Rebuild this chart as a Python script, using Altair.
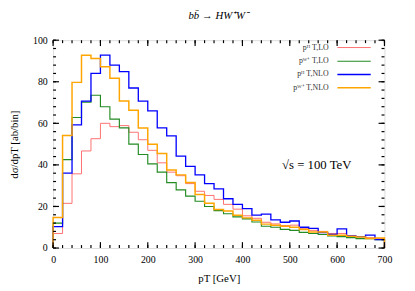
import altair as alt
import pandas as pd

# bin edges (GeV), 20 GeV bins from 0 to 700
edges = list(range(0, 701, 20))

# dsigma/dpT [ab/bin] per bin (35 bins)
h_lo = [7, 21.5, 35.7, 46.7, 52.6, 60, 58.4, 58.9, 55.7, 52.1, 47, 41, 36.5, 34.8, 31,
        27.3, 25.3, 23.4, 21, 18.7, 15.5, 14.3, 12.4, 11.6, 10.8, 11, 9.5, 8.5, 8, 7,
        7, 6, 5.5, 5, 4.5]
w_lo = [12, 42.5, 62.8, 70.2, 73.5, 68, 62, 57.8, 50, 45, 40.5, 36.5, 31.5, 28, 25,
        22.5, 20, 18, 16.5, 15, 14, 12.5, 10.5, 10, 9, 8.5, 7.5, 7, 6.5, 5.8,
        5.5, 5, 4.5, 4.5, 4]
h_nlo = [10.3, 36, 59.3, 70.7, 84, 92.8, 88, 84.9, 77, 70.7, 66, 57.8, 54, 44.2, 39.3,
         35.2, 31, 28.5, 23.7, 21, 19, 15.8, 16.3, 13.5, 12.4, 13, 10, 9.5, 7.4, 6.5,
         9.2, 5.7, 5.5, 6.2, 4]
w_nlo = [14.7, 54.1, 79.7, 92.8, 91.2, 87.2, 81.7, 70.7, 66.3, 57.8, 49.9, 45.5, 37.5, 35.2, 31.5,
         25.8, 21.5, 18.5, 17.8, 15.8, 14.5, 13.4, 11.5, 11, 10.5, 10, 8.9, 7.7, 7.7, 6.1,
         6.1, 5.6, 5.3, 4.6, 4.8]

names = ["pᴴ T,LO", "pᵂ⁺ T,LO", "pᴴ T,NLO", "pᵂ⁺ T,NLO"]
colors = ["#ff7070", "#228B22", "#0000ff", "#ffa500"]
widths = [1, 1.5, 2.5, 3]
series_vals = [h_lo, w_lo, h_nlo, w_nlo]

x_major = list(range(0, 701, 100))
x_minor = list(range(0, 701, 20))
y_major = list(range(0, 101, 20))
y_minor = list(range(0, 101, 4))

ann_x = [557]
ann_y = [40]
ann_text = ["√s = 100 TeV"]

rows = []
for k, (name, vals) in enumerate(zip(names, series_vals)):
    i = 0
    rows.append({"series": name, "k": k, "x": edges[0], "y": 0, "idx": i})
    for e, v in zip(edges[:-1], vals):
        i += 1
        rows.append({"series": name, "k": k, "x": e, "y": v, "idx": i})
    rows.append({"series": name, "k": k, "x": edges[-1], "y": 0, "idx": i + 1})
df = pd.DataFrame(rows)
ann = pd.DataFrame({"x": ann_x, "y": ann_y, "t": ann_text})

W, H = 338, 212
FONT = "Liberation Serif"
xscale = alt.Scale(domain=[0, 700], nice=False, zero=False)
yscale = alt.Scale(domain=[0, 100], nice=False)

x_axis = alt.Axis(values=x_major, ticks=False, domain=False, grid=False,
                  labelFont=FONT, labelFontSize=10, labelColor="black", labelPadding=7,
                  labelOverlap=False, labelFlush=False, title="pT [GeV]", titleFont=FONT,
                  titleFontSize=11, titleFontWeight="normal", titleColor="black", titlePadding=8)
y_axis = alt.Axis(values=y_major, ticks=False, domain=False, grid=False,
                  labelFont=FONT, labelFontSize=10, labelColor="black", labelPadding=6,
                  labelOverlap=False, labelFlush=False, title="dσ/dpT [ab/bin]", titleFont=FONT,
                  titleFontSize=11, titleFontWeight="normal", titleColor="black", titlePadding=13)

legend = alt.Legend(orient="none", legendX=301, legendY=2, title=None,
                    symbolType="M-3.4,0H3.4", symbolSize=100, symbolStrokeWidth=2,
                    labelAlign="right", labelOffset=alt.ExprRef("-32"),
                    labelFont=FONT, labelFontSize=8, labelColor="#333",
                    rowPadding=3.5, padding=0)

lines = alt.Chart(df).mark_line(interpolate="step-after").encode(
    x=alt.X("x:Q", scale=xscale, axis=x_axis),
    y=alt.Y("y:Q", scale=yscale, axis=y_axis),
    color=alt.Color("series:N", scale=alt.Scale(domain=names, range=colors), legend=legend),
    strokeWidth=alt.StrokeWidth("series:N", scale=alt.Scale(domain=names, range=widths), legend=None),
    order="idx:Q",
)


def xticks(vals, size):
    d = pd.DataFrame({"v": vals})
    base = alt.Chart(d).mark_rule(color="black", strokeWidth=1.2)
    xe = alt.X("v:Q", scale=xscale, axis=None)
    return [
        base.encode(x=xe, y=alt.value(H), y2=alt.value(H - size)),
        base.encode(x=xe, y=alt.value(0), y2=alt.value(size)),
    ]


def yticks(vals, size):
    d = pd.DataFrame({"v": vals})
    base = alt.Chart(d).mark_rule(color="black", strokeWidth=1.2)
    ye = alt.Y("v:Q", scale=yscale, axis=None)
    return [
        base.encode(y=ye, x=alt.value(0), x2=alt.value(size)),
        base.encode(y=ye, x=alt.value(W), x2=alt.value(W - size)),
    ]


tick_layers = xticks(x_minor, 3) + xticks(x_major, 6) + yticks(y_minor, 3) + yticks(y_major, 6)

text = alt.Chart(ann).mark_text(font=FONT, fontSize=13, color="black").encode(
    x=alt.X("x:Q", scale=xscale, axis=None),
    y=alt.Y("y:Q", scale=yscale, axis=None),
    text="t:N",
)

chart = alt.layer(lines, *tick_layers, text).resolve_axis(
    x="independent", y="independent"
).properties(
    width=W, height=H,
    title=alt.TitleParams("bb̄ → HW⁺W⁻", font=FONT, fontSize=11, fontStyle="italic",
                          fontWeight="normal", color="black", anchor="middle", offset=15),
    autosize=alt.AutoSizeParams(type="none"),
    padding={"left": 46, "top": 30, "right": 23, "bottom": 41},
).configure_view(stroke="black", strokeWidth=1.5).configure(background="white")

chart.save("out.html", embed_options={"renderer": "svg", "actions": False})
